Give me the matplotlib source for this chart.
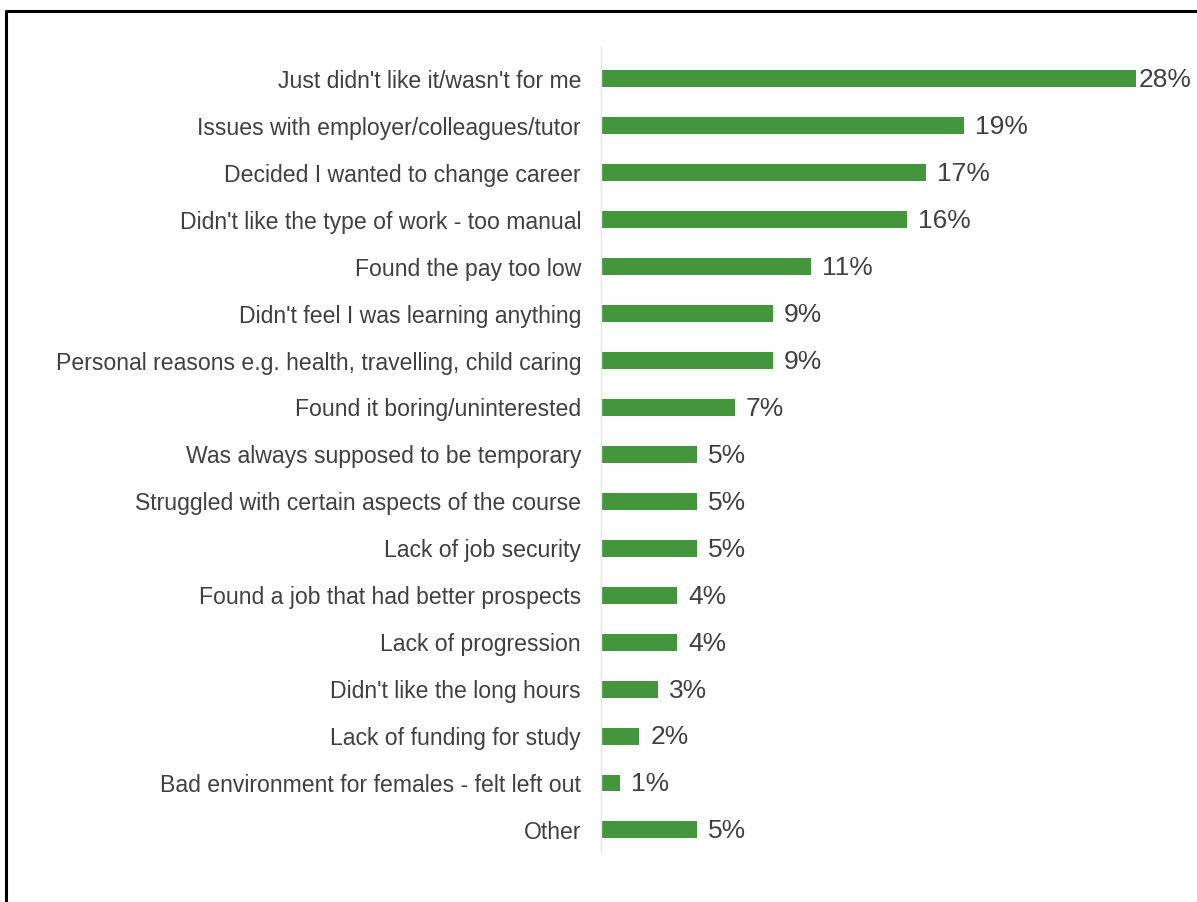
import matplotlib.pyplot as plt
from matplotlib.lines import Line2D

plt.rcParams['font.family'] = ['Liberation Sans', 'DejaVu Sans']

reasons = [
    "Just didn't like it/wasn't for me",
    "Issues with employer/colleagues/tutor",
    "Decided I wanted to change career",
    "Didn't like the type of work - too manual",
    "Found the pay too low",
    "Didn't feel I was learning anything",
    "Personal reasons e.g. health, travelling, child caring",
    "Found it boring/uninterested",
    "Was always supposed to be temporary",
    "Struggled with certain aspects of the course",
    "Lack of job security",
    "Found a job that had better prospects",
    "Lack of progression",
    "Didn't like the long hours",
    "Lack of funding for study",
    "Bad environment for females - felt left out",
    "Other",
]
shares = [28, 19, 17, 16, 11, 9, 9, 7, 5, 5, 5, 4, 4, 3, 2, 1, 5]

W, H = 1197, 902
fig = plt.figure(figsize=(W / 100, H / 100), dpi=100)
ax = fig.add_axes([601 / W, 50 / H, 573 / W, 805 / H])

pos = list(range(len(reasons)))
ax.barh(pos, shares, height=0.36, color='#43963b', zorder=2)
ax.set_xlim(0, 30)
ax.set_ylim(16.47, -0.68)

ax.set_yticks(pos)
ax.set_yticklabels(reasons, fontsize=16.6, color='#404040')
ax.tick_params(axis='y', length=0, pad=14.4)
ax.set_xticks([])
for side in ['top', 'right', 'bottom']:
    ax.spines[side].set_visible(False)
ax.spines['left'].set_color('#e6e6e6')
ax.spines['left'].set_linewidth(1)

for i, v in enumerate(shares):
    off = 2 if v == max(shares) else 8
    ax.annotate(f"{v}%", (v, i), xytext=(off, -1), textcoords='offset points',
                va='center', ha='left', fontsize=19, color='#404040',
                annotation_clip=False)

# frame around the chart area (left and top edges fall inside the image)
fig.add_artist(Line2D([6 / W, 6 / W, 1.0], [0.0, 1 - 11 / H, 1 - 11 / H],
                      transform=fig.transFigure, color='black', lw=2.2))

fig.savefig('out.png', dpi=100)
